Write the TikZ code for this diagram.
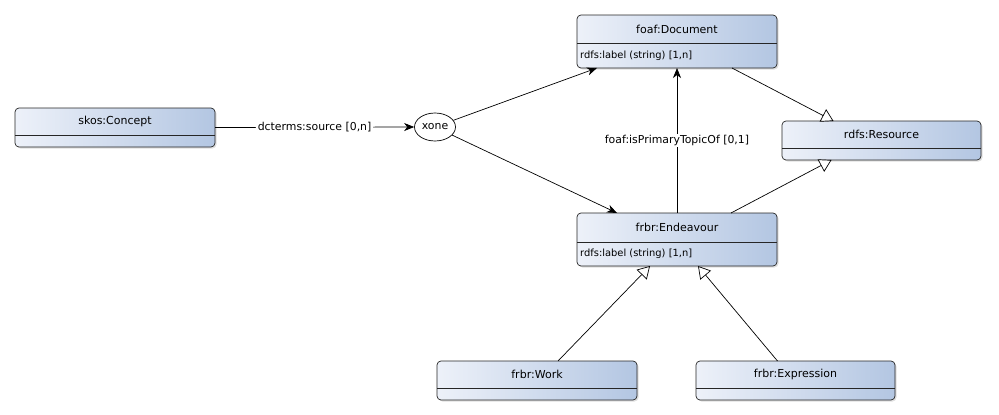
\documentclass[tikz,border=0pt]{standalone}
\usepackage{fontspec}
\setmainfont{DejaVu Sans}
\usetikzlibrary{arrows.meta,shadows,shapes.geometric}
\definecolor{boxL}{HTML}{EDF1F9}
\definecolor{boxR}{HTML}{B3C6E2}
\tikzset{
  classbox/.style={draw=black!85, line width=0.7pt, rounded corners=4pt,
    left color=boxL, right color=boxR, minimum width=200pt,
    drop shadow={opacity=0.25, shadow xshift=1.5pt, shadow yshift=-1.5pt},
    inner sep=0pt, outer sep=0pt},
  titletext/.style={font=\fontsize{11}{12}\selectfont, inner sep=0pt},
  attrtext/.style={font=\fontsize{9.9}{11}\selectfont, inner sep=0pt, anchor=west},
  lbl/.style={font=\fontsize{10.9}{12}\selectfont, fill=white, inner sep=1.5pt},
  assoc/.style={line width=0.7pt, -{Stealth[length=10pt,width=8pt,inset=3pt]}},
  gen/.style={line width=0.7pt, -{Triangle[open,length=12pt,width=14pt,fill=white]}},
  hline/.style={line width=0.7pt, draw=black!85}
}
\begin{document}
\begin{tikzpicture}[x=1pt,y=-1pt]
\useasboundingbox (0,0) rectangle (999,415);
% boxes
\node[classbox, minimum height=53pt] (doc) at (677,41.5) {};
\node[classbox, minimum height=39pt, minimum width=199pt] (res) at (881.5,140.5) {};
\node[classbox, minimum height=39pt] (skos) at (115,127.5) {};
\node[classbox, minimum height=53pt] (end) at (677,239.5) {};
\node[classbox, minimum height=39pt] (work) at (537,380.5) {};
\node[classbox, minimum height=39pt, minimum width=199pt] (expr) at (795.5,380.5) {};
% header separators
\draw[hline] ([yshift=-28pt]doc.north west) -- ([yshift=-28pt]doc.north east);
\draw[hline] ([yshift=-27pt]res.north west) -- ([yshift=-27pt]res.north east);
\draw[hline] ([yshift=-27pt]skos.north west) -- ([yshift=-27pt]skos.north east);
\draw[hline] ([yshift=-29pt]end.north west) -- ([yshift=-29pt]end.north east);
\draw[hline] ([yshift=-27pt]work.north west) -- ([yshift=-27pt]work.north east);
\draw[hline] ([yshift=-27pt]expr.north west) -- ([yshift=-27pt]expr.north east);
% titles
\node[titletext] (docT) at ([yshift=-14pt]doc.north) {foaf:Document};
\node[titletext] (resT) at ([yshift=-13.5pt]res.north) {rdfs:Resource};
\node[titletext] (skosT) at ([yshift=-13.5pt]skos.north) {skos:Concept};
\node[titletext] (endT) at ([yshift=-14.5pt]end.north) {frbr:Endeavour};
\node[titletext] (workT) at ([yshift=-13.5pt]work.north) {frbr:Work};
\node[titletext] (exprT) at ([yshift=-13.5pt]expr.north) {frbr:Expression};
% attributes
\node[attrtext] (docA) at ([xshift=3pt,yshift=-40.5pt]doc.north west) {rdfs:label (string) [1,n]};
\node[attrtext] (endA) at ([xshift=3pt,yshift=-41pt]end.north west) {rdfs:label (string) [1,n]};
% xone
\node[ellipse, draw, line width=0.7pt, fill=white, minimum width=41pt, minimum height=28pt, inner sep=0pt,
  font=\fontsize{10.9}{12}\selectfont] (xone) at (435,127) {xone};
% connectors
\draw[assoc] (skos.east) -- node[lbl] (srcL) {dcterms:source [0,n]} (xone.west);
\draw[assoc] (xone) -- ([xshift=-80pt]doc.south);
\draw[assoc] (xone) -- ([xshift=-60pt]end.north);
\draw[assoc] (end.north) -- node[lbl, pos=0.5] (ptL) {foaf:isPrimaryTopicOf [0,1]} (doc.south);
\draw[gen] ([xshift=55pt]doc.south) -- ([xshift=-48pt]res.north);
\draw[gen] ([xshift=54pt]end.north) -- ([xshift=-50pt]res.south);
\draw[gen] ([xshift=21pt]work.north) -- ([xshift=-27pt]end.south);
\draw[gen] ([xshift=-18pt]expr.north) -- ([xshift=21pt]end.south);
\end{tikzpicture}
\end{document}
